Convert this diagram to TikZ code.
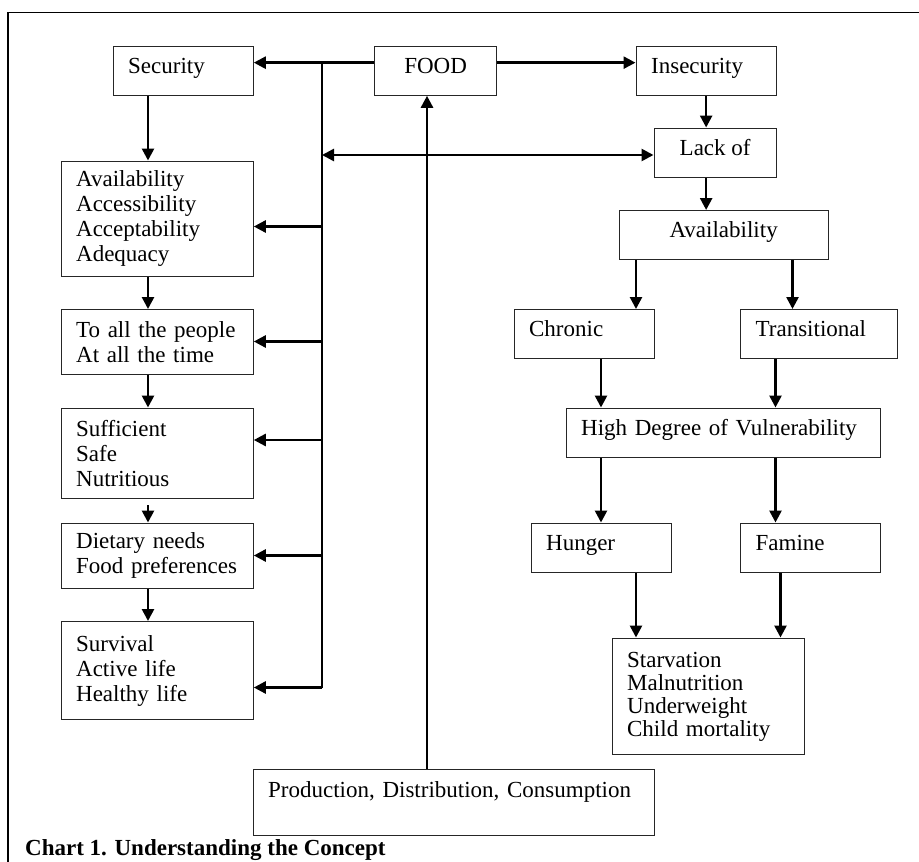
\documentclass[tikz,border=0pt]{standalone}
\usepackage{fontspec}
\setmainfont{Liberation Serif}
\usetikzlibrary{arrows.meta}

\begin{document}
\begin{tikzpicture}[x=1pt,y=-1pt,
    >={Triangle[length=12pt,width=12pt]},
    box/.style={draw=black!85,line width=1.3pt,anchor=north west,inner xsep=15pt,inner ysep=0pt,
      align=left,font=\fontsize{23}{25}\selectfont},
    cbox/.style={box,align=center},
    one/.style={text height=27pt,text depth=22pt},
    arr/.style={line width=2.6pt,->}]
\useasboundingbox (0,0) rectangle (919,862);
\draw[line width=1.4pt] (8,862) -- (8,12.5) -- (919,12.5);

\node[box,one,text width=110pt] (sec) at (112.5,45.5) {Security};
\node[cbox,one,minimum width=122pt] (food) at (374,45.5) {FOOD};
\node[box,one,text width=110pt] (insec) at (635.5,45.5) {Insecurity};
\node[cbox,one,minimum width=122pt] (lack) at (653.5,127.5) {Lack of};
\node[cbox,one,minimum width=209pt] (avr) at (618.5,210) {Availability};

\node[box,text width=162pt,minimum height=115.5pt] (avl) at (60.5,160.5) {Availability\\Accessibility\\Acceptability\\Adequacy};
\node[box,text width=162pt,minimum height=65pt] (toall) at (60.5,309) {To all the people\\At all the time};
\node[box,text width=162pt,minimum height=90pt] (suff) at (60.5,407.5) {Sufficient\\Safe\\Nutritious};
\node[box,text width=162pt,minimum height=65.5pt] (diet) at (60.5,522.5) {Dietary needs\\Food preferences};
\node[box,text width=162pt,minimum height=98pt] (surv) at (60.5,621) {Survival\\Active life\\Healthy life};

\node[box,one,text width=110pt] (chron) at (513.5,309) {Chronic};
\node[box,one,text width=127pt] (trans) at (740,309) {Transitional};
\node[box,one,text width=284pt] (high) at (565.5,407.5) {High Degree of Vulnerability};
\node[box,one,text width=110pt] (hung) at (530.5,522.5) {Hunger};
\node[box,one,text width=110pt] (fam) at (740,522.5) {Famine};
\node[box,text width=162pt,minimum height=116.5pt,font=\fontsize{23}{23}\selectfont] (starv) at (611.5,637.5) {Starvation\\Malnutrition\\Underweight\\Child mortality};
\node[box,text width=371pt,text height=27.5pt,text depth=38.5pt] (prod) at (252.5,769) {Production, Distribution, Consumption};

\node[anchor=west,inner sep=0pt,font=\bfseries\fontsize{23}{25}\selectfont] (cap) at (25,850) {Chart 1. Understanding the Concept};

\coordinate (colL) at (148,0);
\coordinate (gap) at (148,505);
\coordinate (up) at (427,0);
\coordinate (r1) at (636,0);
\coordinate (r2) at (792.5,0);
\coordinate (r3) at (601,0);
\coordinate (r4) at (775.5,0);
\coordinate (r5) at (780.5,0);

\draw[arr] ([yshift=8pt]food.west) -- ([yshift=8pt]sec.east);
\draw[arr] ([yshift=8pt]food.east) -- ([yshift=8pt]insec.west);
\draw[arr] (prod.north -| up) -- (food.south -| up);

\coordinate (spt) at (322,62);
\coordinate (spb) at (322,687.5);
\draw[line width=1.5pt] (spt) -- (spb);
\foreach \n/\y in {avl/226.5,toall/341.5,suff/440,diet/555.5,surv/687.5}{
  \coordinate (s-\n) at (322,\y);
  \draw[arr] (s-\n) -- (\n.east |- s-\n);
}
\coordinate (s-lack) at (322,155);
\draw[arr,<->] (s-lack) -- (lack.west |- s-lack);

\foreach \a/\b in {sec/avl,avl/toall,toall/suff,diet/surv}
  \draw[arr] (\a.south -| colL) -- (\b.north -| colL);
\draw[arr] (gap) -- (diet.north -| gap);

\draw[arr] (insec.south) -- (lack.north -| insec.south);
\draw[arr] (lack.south -| insec.south) -- (avr.north -| insec.south);
\draw[arr] (avr.south -| r1) -- (chron.north -| r1);
\draw[arr] (avr.south -| r2) -- (trans.north -| r2);
\draw[arr] (chron.south -| r3) -- (high.north -| r3);
\draw[arr] (trans.south -| r4) -- (high.north -| r4);
\draw[arr] (high.south -| r3) -- (hung.north -| r3);
\draw[arr] (high.south -| r4) -- (fam.north -| r4);
\draw[arr] (hung.south -| r1) -- (starv.north -| r1);
\draw[arr] (fam.south -| r5) -- (starv.north -| r5);
\end{tikzpicture}
\end{document}
